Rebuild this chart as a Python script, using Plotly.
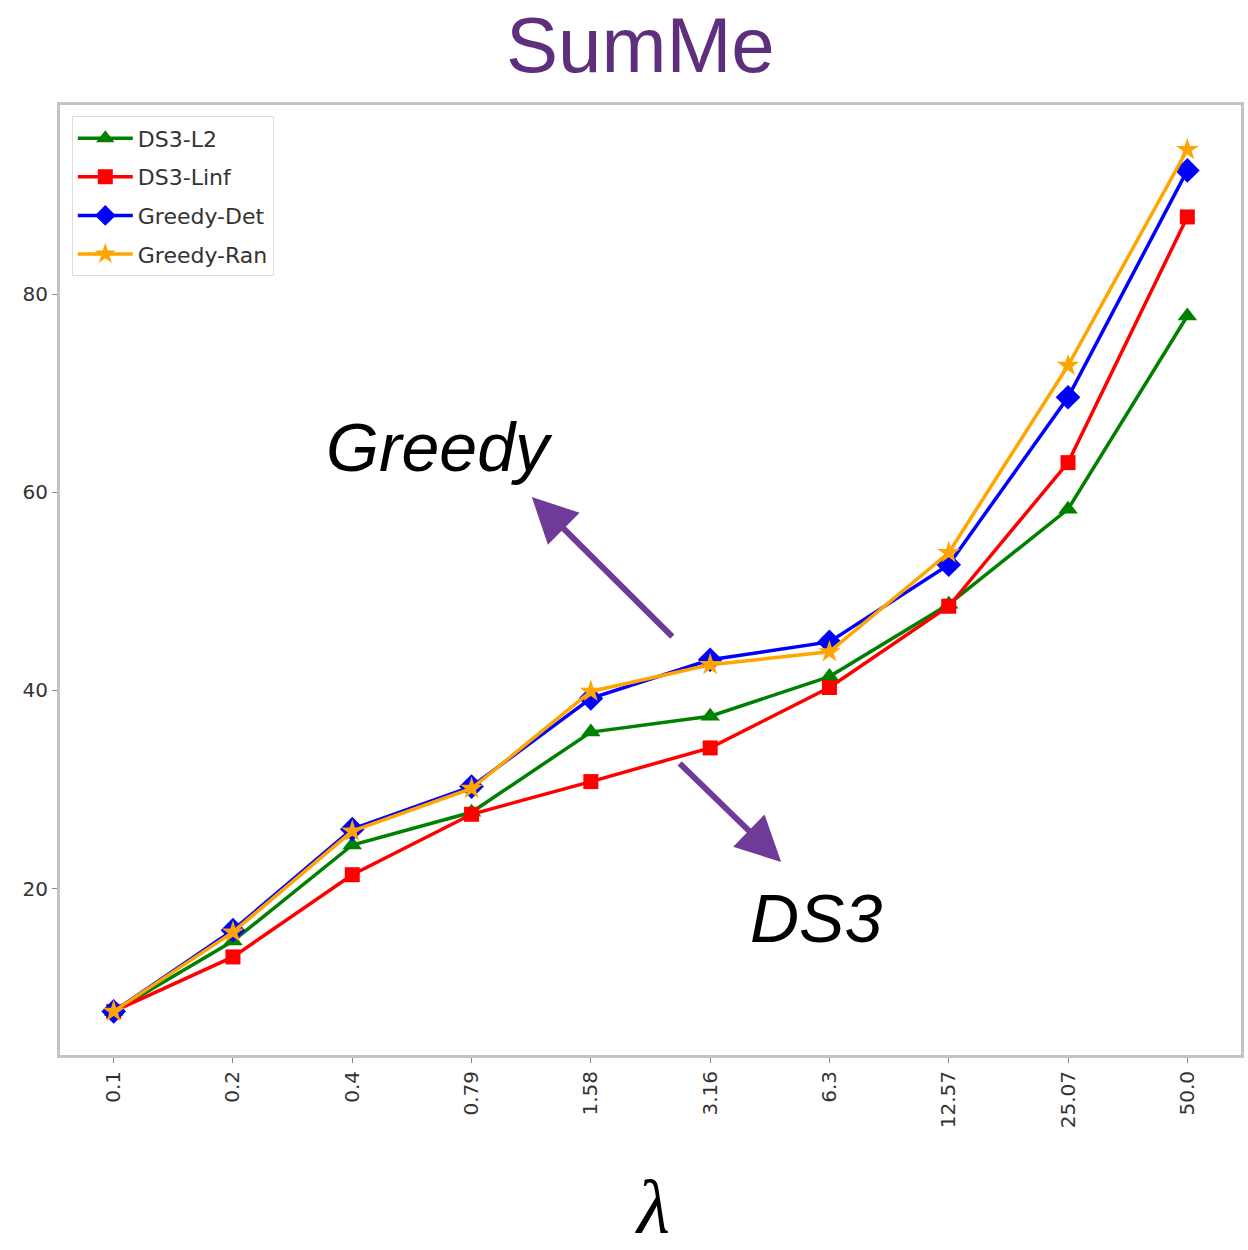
import plotly.graph_objects as go

# Regularisation values (lambda) used as categorical x positions
lambdas = ["0.1", "0.2", "0.4", "0.79", "1.58", "3.16", "6.3", "12.57", "25.07", "50.0"]

ds3_l2 = [7.6, 14.7, 24.4, 27.7, 35.8, 37.4, 41.4, 48.7, 58.3, 77.8]
ds3_linf = [7.6, 13.1, 21.4, 27.5, 30.8, 34.2, 40.3, 48.5, 63.0, 87.8]
greedy_det = [7.6, 15.8, 26.0, 30.3, 39.2, 43.1, 44.9, 52.7, 69.6, 92.5]
greedy_ran = [7.6, 15.6, 25.8, 30.1, 39.9, 42.6, 43.9, 53.9, 72.8, 94.6]

y_ticks = [20, 40, 60, 80]

series = [
    ("DS3-L2", ds3_l2, "#008000", "triangle-up", 17),
    ("DS3-Linf", ds3_linf, "#ff0000", "square", 15),
    ("Greedy-Det", greedy_det, "#0000ff", "diamond", 19),
    ("Greedy-Ran", greedy_ran, "#ffa500", "star", 17),
]

x_idx = list(range(len(lambdas)))

fig = go.Figure()
for name, vals, color, symbol, size in series:
    fig.add_trace(go.Scatter(
        x=x_idx, y=vals, name=name, legendgroup=name, mode="lines+markers",
        line=dict(color=color, width=3.5),
        marker=dict(symbol=symbol, size=size, color=color, line=dict(width=0)),
    ))

axis_common = dict(
    showline=True, mirror=True, linecolor="#c4c4c4", linewidth=3,
    showgrid=False, zeroline=False,
    ticks="outside", ticklen=5, tickcolor="#888888", tickwidth=1,
    tickfont=dict(family="DejaVu Sans", size=20, color="#333333"),
)

fig.update_layout(
    width=1248, height=1250,
    margin=dict(l=60, r=4, t=105, b=195),
    paper_bgcolor="white", plot_bgcolor="white",
    xaxis=dict(range=[-0.45, 9.45], tickmode="array", tickvals=x_idx,
               ticktext=lambdas, tickangle=-90, **axis_common),
    yaxis=dict(range=[3.2, 99.1], tickmode="array", tickvals=y_ticks,
               ticktext=[str(v) for v in y_ticks], **axis_common),
    legend=dict(
        x=0.01, y=0.988, xanchor="left", yanchor="top",
        bgcolor="white", bordercolor="#dddddd", borderwidth=1,
        font=dict(family="DejaVu Sans", size=22, color="#333333"),
        tracegroupgap=7, itemwidth=55,
    ),
    showlegend=True,
)

purple = "#6f3a98"

# Title
fig.add_annotation(xref="paper", yref="paper", x=0.4916, y=1.063,
                   text="SumMe", showarrow=False,
                   font=dict(family="Liberation Sans", size=78, color="#5e2f7d"),
                   xanchor="center", yanchor="middle")

# Axis label
fig.add_annotation(xref="paper", yref="paper", x=0.502, y=-0.160,
                   text="<i>λ</i>", showarrow=False,
                   font=dict(family="Liberation Serif", size=76, color="black"),
                   xanchor="center", yanchor="middle")

# Group labels
fig.add_annotation(xref="paper", yref="paper", x=(440 - 60) / 1184, y=(1055 - 447) / 950,
                   text="<i>Greedy</i>", showarrow=False,
                   font=dict(family="Liberation Sans", size=68, color="black"),
                   xanchor="center", yanchor="middle")
fig.add_annotation(xref="paper", yref="paper", x=(818 - 60) / 1184, y=(1055 - 918) / 950,
                   text="<i>DS3</i>", showarrow=False,
                   font=dict(family="Liberation Sans", size=68, color="black"),
                   xanchor="center", yanchor="middle")

# Pointer arrows
fig.add_annotation(xref="paper", yref="paper", x=(533 - 60) / 1184, y=(1055 - 497) / 950,
                   ax=142, ay=141, axref="pixel", ayref="pixel",
                   showarrow=True, arrowhead=2, arrowsize=1.5, arrowwidth=6,
                   arrowcolor=purple, text="")
fig.add_annotation(xref="paper", yref="paper", x=(783 - 60) / 1184, y=(1055 - 862) / 950,
                   ax=-103, ay=-100, axref="pixel", ayref="pixel",
                   showarrow=True, arrowhead=2, arrowsize=1.5, arrowwidth=6,
                   arrowcolor=purple, text="")

fig.write_html("out.html")
